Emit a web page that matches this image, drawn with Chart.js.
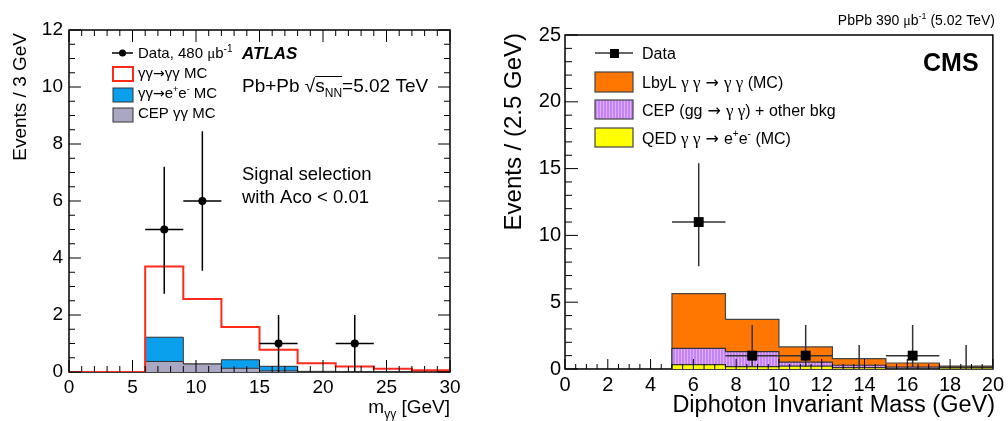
<!DOCTYPE html>
<html>
<head>
<meta charset="utf-8">
<script src="https://cdn.jsdelivr.net/npm/chart.js@4.4.0/dist/chart.umd.min.js"></script>
<style>
  html, body { margin: 0; padding: 0; background: #fff; }
  #wrap { position: relative; width: 1008px; height: 421px; }
  #atlas { position: absolute; left: 0; top: 0; }
  #cms { position: absolute; left: 480px; top: 0; }
</style>
</head>
<body>
<div id="wrap">
  <canvas id="atlas" width="480" height="421"></canvas>
  <canvas id="cms" width="528" height="421"></canvas>
</div>
<script>
const FONT = '"Liberation Sans", Arial, Helvetica, sans-serif';
const SERIF = '"Liberation Serif", "Times New Roman", serif';
const ARROW = '"DejaVu Sans", sans-serif';

// ---- ATLAS panel data ----
const atlasEdges = [0, 3, 6, 9, 12, 15, 18, 21, 24, 27, 30];
const atlasCep = [0, 0, 0.37, 0.28, 0.13, 0.04, 0.02, 0, 0, 0];
const atlasEe = [0, 0, 0.85, 0, 0.30, 0.16, 0, 0, 0, 0];
const atlasSignal = [0, 0, 2.48, 2.28, 1.15, 0.58, 0.29, 0.19, 0.11, 0.06];
const atlasDataX = [7.5, 10.5, 16.5, 22.5];
const atlasDataY = [5, 6, 1, 1];
const atlasErrLow = [2.25, 2.45, 1, 1];
const atlasErrHigh = [2.2, 2.45, 1, 1];
const atlasBinHalf = 1.5;
const atlasXTicks = [0, 5, 10, 15, 20, 25, 30];
const atlasYTicks = [0, 2, 4, 6, 8, 10, 12];

// ---- CMS panel data ----
const cmsEdges = [0, 2.5, 5, 7.5, 10, 12.5, 15, 17.5, 20];
const cmsQed = [0, 0, 0.33, 0.18, 0.22, 0.10, 0.05, 0.08];
const cmsCep = [0, 0, 1.22, 1.12, 0.30, 0.18, 0.10, 0.04];
const cmsLbyl = [0, 0, 4.09, 2.42, 1.13, 0.50, 0.30, 0.10];
const cmsDataX = [6.25, 8.75, 11.25, 13.75, 16.25, 18.75];
const cmsDataY = [11, 1, 1, 0, 1, 0];
const cmsErrLow = [3.3, 0.85, 0.85, 0, 0.85, 0];
const cmsErrHigh = [4.4, 2.3, 2.3, 1.8, 2.3, 1.8];
const cmsBinHalf = 1.25;
const cmsXTicks = [0, 2, 4, 6, 8, 10, 12, 14, 16, 18, 20];
const cmsYTicks = [0, 5, 10, 15, 20, 25];

// helpers
function sumLayers(...layers) {
  return layers[0].map((_, i) => layers.reduce((s, l) => s + l[i], 0));
}
function steps(edges, vals) {
  const pts = vals.map((v, i) => ({ x: edges[i], y: v }));
  pts.push({ x: edges[edges.length - 1], y: vals[vals.length - 1] });
  return pts;
}
function points(xs, ys) {
  return xs.map((x, i) => ({ x: x, y: ys[i] }));
}
function font(size, style, family) {
  return (style || '') + ' ' + size + 'px ' + (family || FONT);
}
// draw a run of text pieces: [text, size, dy, style, family]
function rich(ctx, x, y, parts, align) {
  let w = 0;
  parts.forEach(p => { ctx.font = font(p[1], p[3], p[4]); w += ctx.measureText(p[0]).width; });
  let cx = align === 'right' ? x - w : x;
  const pos = [];
  parts.forEach(p => {
    ctx.font = font(p[1], p[3], p[4]);
    ctx.fillText(p[0], cx, y + (p[2] || 0));
    pos.push(cx);
    cx += ctx.measureText(p[0]).width;
  });
  pos.push(cx);
  return pos;
}
function frame(chart) {
  const { ctx, chartArea: a } = chart;
  ctx.save();
  ctx.strokeStyle = '#000';
  ctx.lineWidth = 1.5;
  ctx.strokeRect(a.left, a.top, a.right - a.left, a.bottom - a.top);
  ctx.restore();
}
function ticks(chart, c) {
  const { ctx, chartArea: a, scales: { x, y } } = chart;
  ctx.save();
  ctx.strokeStyle = '#000';
  ctx.lineWidth = 1;
  ctx.beginPath();
  for (let v = x.min; v <= x.max + 1e-9; v += c.xMinor) {
    const px = x.getPixelForValue(v);
    const major = Math.abs(v / c.xMajor - Math.round(v / c.xMajor)) < 1e-6;
    const len = major ? c.xMajLen : c.xMinLen;
    ctx.moveTo(px, a.bottom); ctx.lineTo(px, a.bottom - len);
    if (c.top) { ctx.moveTo(px, a.top); ctx.lineTo(px, a.top + len); }
  }
  for (let v = y.min; v <= y.max + 1e-9; v += c.yMinor) {
    const py = y.getPixelForValue(v);
    const major = Math.abs(v / c.yMajor - Math.round(v / c.yMajor)) < 1e-6;
    const len = major ? c.yMajLen : c.yMinLen;
    ctx.moveTo(a.left, py); ctx.lineTo(a.left + len, py);
    if (c.right) { ctx.moveTo(a.right, py); ctx.lineTo(a.right - len, py); }
  }
  ctx.stroke();
  ctx.restore();
}
function errorBars(chart, xs, ys, lo, hi, half, color, width) {
  const { ctx, scales: { x, y } } = chart;
  ctx.save();
  ctx.strokeStyle = color;
  ctx.lineWidth = width;
  ctx.beginPath();
  xs.forEach((xv, i) => {
    const px = x.getPixelForValue(xv);
    ctx.moveTo(px, y.getPixelForValue(ys[i] - lo[i]));
    ctx.lineTo(px, y.getPixelForValue(ys[i] + hi[i]));
    if (ys[i] > 0) {
      const py = y.getPixelForValue(ys[i]);
      ctx.moveTo(x.getPixelForValue(xv - half), py);
      ctx.lineTo(x.getPixelForValue(xv + half), py);
    }
  });
  ctx.stroke();
  ctx.restore();
}
function fixedTicks(list) {
  return s => { s.ticks = list.map(v => ({ value: v })); };
}

// ================= ATLAS =================
const atlasTotal = sumLayers(atlasCep, atlasEe, atlasSignal);
const atlasBkg = sumLayers(atlasCep, atlasEe);

const atlasPlugin = {
  id: 'atlasDecor',
  beforeDatasetsDraw(chart) { frame(chart); },
  beforeDatasetDraw(chart, args) {
    if (args.index !== 0) return;
    // ticks and error bars go under the data markers
    ticks(chart, { xMinor: 1, xMajor: 5, xMajLen: 12, xMinLen: 6, top: true,
                   yMinor: 0.5, yMajor: 2, yMajLen: 12, yMinLen: 6, right: true });
    errorBars(chart, atlasDataX, atlasDataY, atlasErrLow, atlasErrHigh, atlasBinHalf, '#000', 1.5);
  },
  afterDraw(chart) {
    const ctx = chart.ctx;
    ctx.save();
    ctx.fillStyle = '#000';
    ctx.textBaseline = 'alphabetic';
    // y title
    ctx.save();
    ctx.translate(26, 33);
    ctx.rotate(-Math.PI / 2);
    ctx.textAlign = 'right';
    ctx.font = font(19);
    ctx.fillText('Events / 3 GeV', 0, 0);
    ctx.restore();
    // x title
    ctx.textAlign = 'left';
    rich(ctx, 450, 413, [['m', 19], ['γγ', 12, 5], [' [GeV]', 19]], 'right');

    // legend
    ctx.strokeStyle = '#000';
    ctx.lineWidth = 1.5;
    ctx.beginPath(); ctx.moveTo(112, 53); ctx.lineTo(133, 53); ctx.stroke();
    ctx.beginPath(); ctx.arc(122.5, 53, 3.5, 0, Math.PI * 2); ctx.fill();
    rich(ctx, 138, 58, [['Data, 480 ', 15], ['μ', 15, 0, '', SERIF], ['b', 15], ['-1', 10, -6]]);
    ctx.font = font(17, 'italic bold');
    ctx.fillText('ATLAS', 242, 59);

    ctx.fillStyle = '#fff'; ctx.fillRect(113, 67, 20, 14);
    ctx.strokeStyle = '#ff2a1a'; ctx.lineWidth = 2; ctx.strokeRect(113, 67, 20, 14);
    ctx.fillStyle = '#0aa0ee'; ctx.fillRect(113, 88, 20, 14);
    ctx.strokeStyle = '#333'; ctx.lineWidth = 1; ctx.strokeRect(113, 88, 20, 14);
    ctx.fillStyle = '#a9a7c2'; ctx.fillRect(113, 108, 20, 14);
    ctx.strokeRect(113, 108, 20, 14);

    ctx.fillStyle = '#000';
    rich(ctx, 138, 78, [['γγ', 15], ['→', 14, 0, '', ARROW], ['γγ MC', 15]]);
    rich(ctx, 138, 98, [['γγ', 15], ['→', 14, 0, '', ARROW], ['e', 15], ['+', 9, -6], ['e', 15], ['-', 9, -6], [' MC', 15]]);
    rich(ctx, 138, 118, [['CEP γγ MC', 15]]);

    // energy label with sqrt
    const q = rich(ctx, 242, 92, [['Pb+Pb ', 19], ['√', 19], ['s', 19], ['NN', 12, 5], ['=5.02 TeV', 19]]);
    ctx.lineWidth = 1; ctx.strokeStyle = '#000';
    ctx.beginPath(); ctx.moveTo(q[2], 76.5); ctx.lineTo(q[4], 76.5); ctx.stroke();

    ctx.font = font(18.5);
    ctx.fillText('Signal selection', 242, 180);
    ctx.fillText('with Aco < 0.01', 242, 203);
    ctx.restore();
  }
};

new Chart(document.getElementById('atlas'), {
  type: 'line',
  data: {
    datasets: [
      { label: 'Data', data: points(atlasDataX, atlasDataY), showLine: false,
        pointRadius: 4, pointBackgroundColor: '#000', pointBorderWidth: 0 },
      { label: 'γγ→γγ MC', data: steps(atlasEdges, atlasTotal), stepped: 'before',
        borderColor: '#ff2a1a', borderWidth: 2, pointRadius: 0, fill: false },
      { label: 'CEP γγ MC', data: steps(atlasEdges, atlasCep), stepped: 'before',
        borderColor: '#333', borderWidth: 1, backgroundColor: '#a9a7c2', pointRadius: 0, fill: 'origin' },
      { label: 'γγ→ee MC', data: steps(atlasEdges, atlasBkg), stepped: 'before',
        borderColor: '#333', borderWidth: 1, backgroundColor: '#0aa0ee', pointRadius: 0, fill: 'origin' }
    ]
  },
  options: {
    responsive: false,
    animation: false,
    layout: { padding: { left: 0, top: 30, right: 30, bottom: 0 } },
    plugins: { legend: { display: false }, tooltip: { enabled: false } },
    scales: {
      x: {
        type: 'linear', min: 0, max: 30,
        afterBuildTicks: fixedTicks(atlasXTicks),
        afterFit: s => { s.height = 49; },
        grid: { display: false, drawTicks: false },
        border: { display: false },
        ticks: { color: '#000', padding: 4, maxRotation: 0, font: { family: FONT, size: 19 } }
      },
      y: {
        min: 0, max: 12,
        afterBuildTicks: fixedTicks(atlasYTicks),
        afterFit: s => { s.width = 69; },
        grid: { display: false, drawTicks: false },
        border: { display: false },
        ticks: { color: '#000', padding: 6, font: { family: FONT, size: 19 } }
      }
    }
  },
  plugins: [atlasPlugin]
});

// ================= CMS =================
const cmsLower = cmsQed;
const cmsMiddle = sumLayers(cmsQed, cmsCep);
const cmsTotal = sumLayers(cmsQed, cmsCep, cmsLbyl);

const pc = document.createElement('canvas');
pc.width = 3; pc.height = 3;
const pctx = pc.getContext('2d');
pctx.fillStyle = '#c583f7'; pctx.fillRect(0, 0, 3, 3);
pctx.fillStyle = '#deb0ff'; pctx.fillRect(0, 0, 1, 3);
const purple = pctx.createPattern(pc, 'repeat');

const cmsPlugin = {
  id: 'cmsDecor',
  beforeDatasetsDraw(chart) { frame(chart); },
  beforeDatasetDraw(chart, args) {
    if (args.index !== 0) return;
    ticks(chart, { xMinor: 0.5, xMajor: 2, xMajLen: 10, xMinLen: 5, top: false,
                   yMinor: 1, yMajor: 5, yMajLen: 13, yMinLen: 7, right: false });
    errorBars(chart, cmsDataX, cmsDataY, cmsErrLow, cmsErrHigh, cmsBinHalf, '#333', 1.5);
  },
  afterDraw(chart) {
    const ctx = chart.ctx;
    ctx.save();
    ctx.fillStyle = '#000';
    ctx.textBaseline = 'alphabetic';
    rich(ctx, 515, 25, [['PbPb 390 ', 14], ['μ', 14, 0, '', SERIF], ['b', 14], ['-1', 9, -6], [' (5.02 TeV)', 14]], 'right');
    ctx.font = font(25, 'bold');
    ctx.fillText('CMS', 443, 71);

    // y title
    ctx.save();
    ctx.translate(41, 33);
    ctx.rotate(-Math.PI / 2);
    ctx.textAlign = 'right';
    ctx.font = font(24);
    ctx.fillText('Events / (2.5 GeV)', 0, 0);
    ctx.restore();
    // x title
    ctx.textAlign = 'right';
    ctx.font = font(23.5);
    ctx.fillText('Diphoton Invariant Mass (GeV)', 515, 412);
    ctx.textAlign = 'left';

    // legend
    ctx.strokeStyle = '#333'; ctx.lineWidth = 1.5;
    ctx.beginPath(); ctx.moveTo(115, 53); ctx.lineTo(153, 53); ctx.stroke();
    ctx.fillRect(130, 49, 9, 9);
    ctx.font = font(16);
    ctx.fillText('Data', 162, 59);

    ctx.lineWidth = 1.2; ctx.strokeStyle = '#444';
    ctx.fillStyle = '#ff7700'; ctx.fillRect(115, 72, 38, 20); ctx.strokeRect(115, 72, 38, 20);
    ctx.fillStyle = purple; ctx.fillRect(115, 100, 38, 19); ctx.strokeRect(115, 100, 38, 19);
    ctx.fillStyle = '#ffff00'; ctx.fillRect(115, 128, 38, 19); ctx.strokeRect(115, 128, 38, 19);

    ctx.fillStyle = '#000';
    const g = t => [t, 17, 0, '', SERIF];
    const ar = [' → ', 16, 0, '', ARROW];
    rich(ctx, 162, 88, [['LbyL ', 16], g('γ γ'), ar, g('γ γ'), [' (MC)', 16]]);
    rich(ctx, 162, 116, [['CEP (gg', 16], ar, g('γ γ'), [') + other bkg', 16]]);
    rich(ctx, 162, 144, [['QED ', 16], g('γ γ'), ar, ['e', 16], ['+', 10, -7], ['e', 16], ['-', 10, -7], [' (MC)', 16]]);
    ctx.restore();
  }
};

new Chart(document.getElementById('cms'), {
  type: 'line',
  data: {
    datasets: [
      { label: 'Data', data: points(cmsDataX, cmsDataY), showLine: false,
        pointStyle: 'rect', pointRadius: cmsDataY.map(v => v > 0 ? 7 : 0),
        pointBackgroundColor: '#000', pointBorderWidth: 0 },
      { label: 'QED', data: steps(cmsEdges, cmsLower), stepped: 'before',
        borderColor: '#333', borderWidth: 1.2, backgroundColor: '#ffff00', pointRadius: 0, fill: 'origin' },
      { label: 'CEP', data: steps(cmsEdges, cmsMiddle), stepped: 'before',
        borderColor: '#333', borderWidth: 1.2, backgroundColor: purple, pointRadius: 0, fill: 'origin' },
      { label: 'LbyL', data: steps(cmsEdges, cmsTotal), stepped: 'before',
        borderColor: '#444', borderWidth: 1.2, backgroundColor: '#ff7700', pointRadius: 0, fill: 'origin' }
    ]
  },
  options: {
    responsive: false,
    animation: false,
    layout: { padding: { left: 0, top: 35, right: 14, bottom: 0 } },
    plugins: { legend: { display: false }, tooltip: { enabled: false } },
    scales: {
      x: {
        type: 'linear', min: 0, max: 20,
        afterBuildTicks: fixedTicks(cmsXTicks),
        afterFit: s => { s.height = 52; },
        grid: { display: false, drawTicks: false },
        border: { display: false },
        ticks: { color: '#000', padding: 4, maxRotation: 0, font: { family: FONT, size: 20 } }
      },
      y: {
        min: 0, max: 25,
        afterBuildTicks: fixedTicks(cmsYTicks),
        afterFit: s => { s.width = 85; },
        grid: { display: false, drawTicks: false },
        border: { display: false },
        ticks: { color: '#000', padding: 4, font: { family: FONT, size: 20 } }
      }
    }
  },
  plugins: [cmsPlugin]
});
</script>
</body>
</html>
